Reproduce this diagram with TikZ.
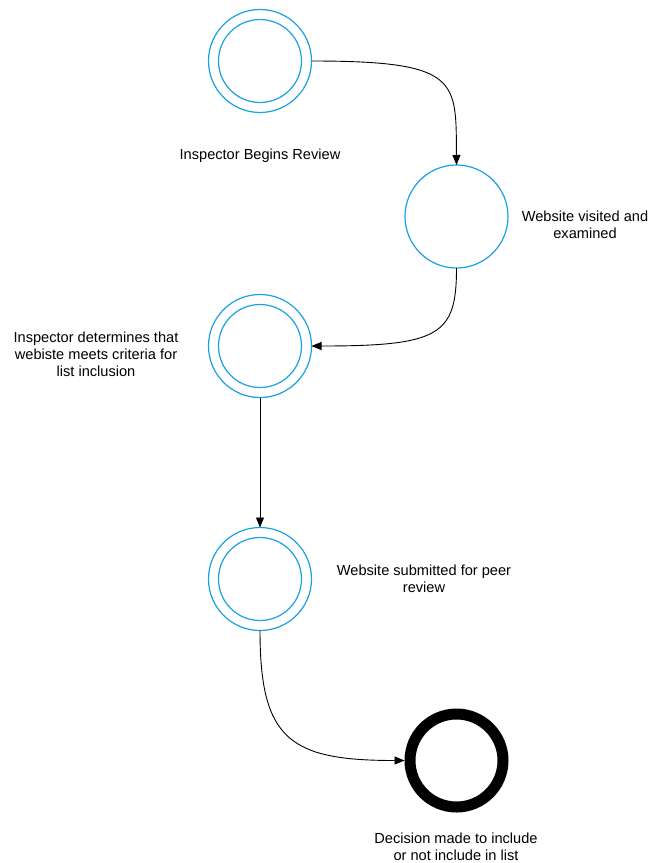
\documentclass[tikz,border=0pt]{standalone}
\usepackage{fontspec}
\setmainfont{Liberation Sans}
\usetikzlibrary{arrows.meta}
\definecolor{stateblue}{HTML}{1BA1E2}
\begin{document}
\begin{tikzpicture}[x=1pt,y=-1pt,
  state/.style={circle,draw=stateblue,line width=1.2pt,minimum size=103pt,inner sep=0pt,outer sep=0pt},
  innerring/.style={circle,draw=stateblue,line width=1.2pt,minimum size=83pt,inner sep=0pt,outer sep=0pt},
  finalstate/.style={circle,draw=black,line width=11pt,minimum size=93pt,inner sep=0pt,outer sep=5.5pt},
  lbl/.style={align=center,font=\fontsize{14.6}{17}\selectfont,inner sep=0pt},
  flow/.style={line width=0.9pt,-{Triangle[length=10pt,width=8pt]}}]
\path[use as bounding box,fill=white] (0,0) rectangle (649,863);

\node[state] (c1) at (260,61) {};
\node[innerring] (c1i) at (260,61) {};
\node[state] (c2) at (456.5,216.5) {};
\node[state] (c3) at (260,346) {};
\node[innerring] (c3i) at (260,346) {};
\node[state] (c4) at (260,579) {};
\node[innerring] (c4i) at (260,579) {};
\node[finalstate] (c5) at (456.5,760.5) {};

\node[lbl] (t1) at (260,156) {Inspector Begins Review};
\node[lbl] (t2) at (585,225) {Website visited and\\examined};
\node[lbl] (t3) at (96,354) {Inspector determines that\\webiste meets criteria for\\list inclusion};
\node[lbl] (t4) at (424,579) {Website submitted for peer\\review};
\node[lbl] (t5) at (456,847) {Decision made to include\\or not include in list};

\draw[flow] (c1.east) .. controls (460,61) and (456,80) .. (c2.north);
\draw[flow] (c2.south) .. controls (456.5,335) and (440,346) .. (c3.east);
\draw[flow] (c3.south) -- (c4.north);
\draw[flow] (c4.south) .. controls (260,740) and (290,760.5) .. (c5.west);
\end{tikzpicture}
\end{document}
